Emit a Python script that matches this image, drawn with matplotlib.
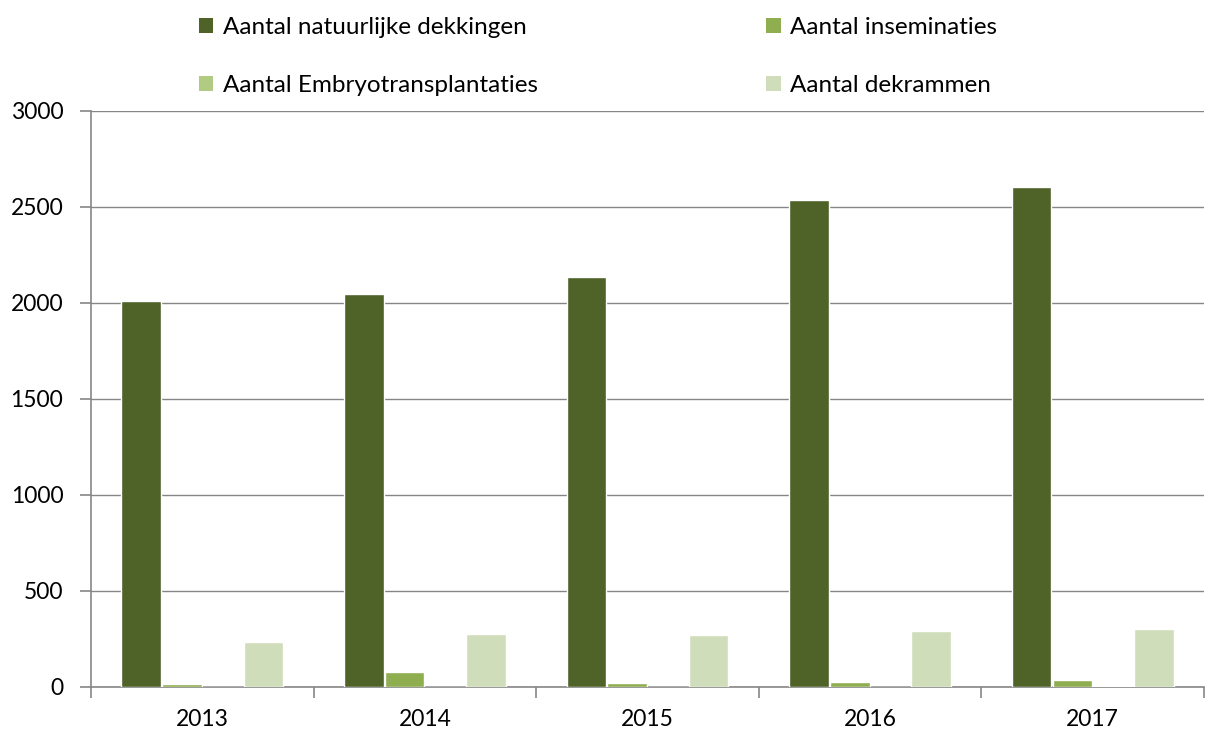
import matplotlib
matplotlib.use("Agg")
import matplotlib.pyplot as plt
import numpy as np
from matplotlib.ticker import FixedLocator

years = ["2013", "2014", "2015", "2016", "2017"]
natuurlijk = [2010, 2047, 2135, 2534, 2603]
inseminaties = [14, 80, 22, 28, 37]
embryo = [0, 0, 0, 0, 3]
dekrammen = [236, 276, 272, 292, 300]

series = [
    ("Aantal natuurlijke dekkingen", natuurlijk, "#4F6228"),
    ("Aantal inseminaties", inseminaties, "#8FAE50"),
    ("Aantal Embryotransplantaties", embryo, "#B2CB82"),
    ("Aantal dekrammen", dekrammen, "#CFDDBA"),
]

plt.rcParams['font.family'] = ['Lato', 'DejaVu Sans']

fig = plt.figure(figsize=(12.09, 7.33), dpi=100)
ax = fig.add_axes([0.0753, 0.0628, 0.9206, 0.7858])

x = np.arange(len(years))
slot = 0.183
bw = 0.178
handles = {}
for i, (name, vals, col) in enumerate(series):
    offs = (i - 1.5) * slot
    h = ax.bar(x + offs, vals, width=bw, color=col, edgecolor="white",
               linewidth=1.0, zorder=3, label=name)
    handles[name] = h

ax.set_xlim(-0.5, len(years) - 0.5)
ax.set_ylim(0, 3000)
ax.set_yticks(np.arange(0, 3001, 500))
ax.set_xticks(x)
ax.set_xticklabels(years)
ax.xaxis.set_minor_locator(FixedLocator(np.arange(-0.5, len(years), 1.0)))
ax.tick_params(axis='x', which='major', length=0, labelsize=16.5, pad=16, colors="black")
ax.tick_params(axis='x', which='minor', length=8, width=1.2, color="#868686", direction='out')
ax.tick_params(axis='y', length=8, width=1.2, color="#868686", labelsize=16.5, pad=12, direction='out')

ax.grid(axis='y', color="#868686", linewidth=1.0, zorder=0)
for s in ["top", "right"]:
    ax.spines[s].set_visible(False)
for s in ["left", "bottom"]:
    ax.spines[s].set_color("#868686")
    ax.spines[s].set_linewidth(1.2)

order = [series[0][0], series[2][0], series[1][0], series[3][0]]
leg = fig.legend([handles[n] for n in order], order, ncol=2,
                 loc='upper left', bbox_to_anchor=(0.1464, 1.006),
                 frameon=False, fontsize=17.5, handlelength=0.58, handleheight=0.58,
                 handletextpad=0.41, columnspacing=9.4, labelspacing=1.5)
for p in leg.get_patches():
    p.set_edgecolor("none")

fig.savefig("out.png", dpi=100)
